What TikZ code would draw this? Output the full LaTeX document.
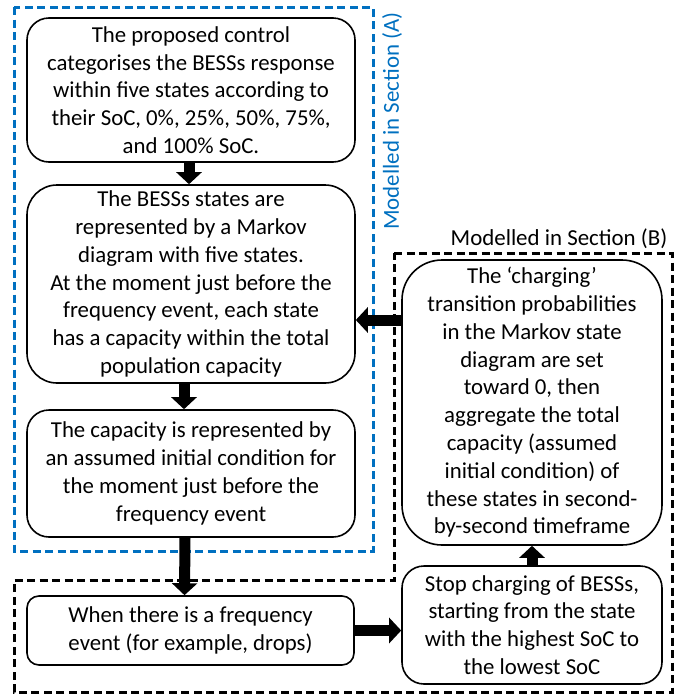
\documentclass[tikz,border=0pt]{standalone}
\usepackage{fontspec}
\setmainfont{Carlito}
\usetikzlibrary{arrows.meta}
\definecolor{secA}{HTML}{0070C0}
\tikzset{
  box/.style={draw, line width=1.6pt, align=center, inner sep=0pt,
    font=\fontsize{22.8}{27.8}\selectfont, text=black},
  blockarrow/.style={line width=11pt, -{Triangle[length=12pt,width=25pt]}},
  regionA/.style={draw=secA, line width=3pt, dash pattern=on 8pt off 4.5pt},
  regionB/.style={draw=black, line width=3pt, dash pattern=on 8pt off 4.5pt},
  seclabel/.style={font=\fontsize{22.9}{26}\selectfont, inner sep=0pt}
}
\begin{document}
\begin{tikzpicture}[x=1pt,y=-1pt]
\useasboundingbox (0,0) rectangle (694,694);

% dashed regions
\draw[regionA] (14,7) rectangle (373,551);
\draw[regionB] (394,253) -- (672,253) -- (672,692) -- (14,692) -- (14,580) -- (394,580) -- cycle;

\node[seclabel, text=secA, rotate=90] (labA) at (392,121) {Modelled in Section (A)};
\node[seclabel] (labB) at (559,239) {Modelled in Section (B)};

% process boxes
\node[box, rounded corners=22pt, minimum width=328pt, minimum height=144pt] (b1) at (191,90)
  {The proposed control\\categorises the BESSs response\\within five states according to\\their SoC, 0\%, 25\%, 50\%, 75\%,\\and 100\% SoC.};
\node[box, rounded corners=30pt, minimum width=328pt, minimum height=198pt] (b2) at (191,284)
  {The BESSs states are\\represented by a Markov\\diagram with five states.\\At the moment just before the\\frequency event, each state\\has a capacity within the total\\population capacity};
\node[box, rounded corners=22pt, minimum width=328pt, minimum height=127pt] (b3) at (191,473.5)
  {The capacity is represented by\\an assumed initial condition for\\the moment just before the\\frequency event};
\node[box, rounded corners=12pt, minimum width=327pt, minimum height=69pt] (b4) at (190.5,630.5)
  {When there is a frequency\\event (for example, drops)};
\node[box, rounded corners=22pt, minimum width=260pt, minimum height=118pt] (b5) at (532,625)
  {Stop charging of BESSs,\\starting from the state\\with the highest SoC to\\the lowest SoC};
\node[box, rounded corners=40pt, minimum width=260pt, minimum height=285pt] (b6) at (532,402.5)
  {The ‘charging’\\transition probabilities\\in the Markov state\\diagram are set\\toward 0, then\\aggregate the total\\capacity (assumed\\initial condition) of\\these states in second-\\by-second timeframe};

% flow arrows
\draw[blockarrow] ([xshift=-2pt]b1.south) -- ([xshift=-2pt]b2.north);
\draw[blockarrow] ([xshift=-7pt]b2.south) -- ([xshift=-7pt]b3.north);
\draw[blockarrow] ([xshift=-6pt]b3.south) -- ([xshift=-6pt]b4.north);
\draw[blockarrow] (b4.east) -- (b4.east -| b5.west);
\draw[blockarrow] (b5.north) -- (b6.south);
\draw[blockarrow] (b6.west |- 0,320) -- (b2.east |- 0,320);
\end{tikzpicture}
\end{document}
